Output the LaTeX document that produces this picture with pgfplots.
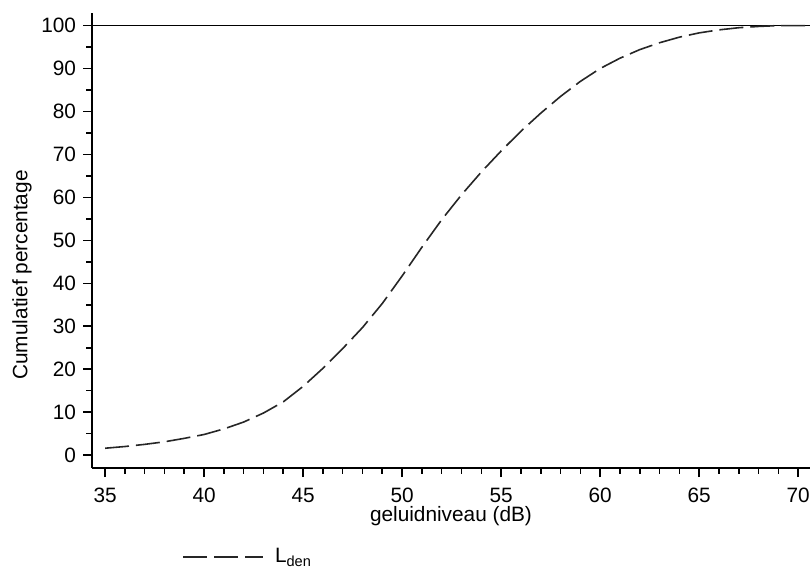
\documentclass[border=0pt]{standalone}
\usepackage{fontspec}
\setmainfont{Liberation Sans}
\usepackage{pgfplots}
\pgfplotsset{compat=1.18}

\newcommand{\chartfont}{\fontsize{10.4bp}{12bp}\selectfont}

\begin{document}
\begin{tikzpicture}
\begin{axis}[
  name=ax,
  scale only axis,
  width=359bp, height=227.65bp,
  xmin=34.34, xmax=70.6,
  ymin=-3, ymax=103,
  axis x line*=bottom, axis y line*=left,
  xtick pos=bottom, ytick pos=left,
  tick align=outside,
  axis line style={line width=0.9bp},
  major tick length=4.5bp, minor tick length=2.8bp,
  every tick/.style={black, line width=0.8bp},
  xtick={35,40,...,70}, ytick={0,10,...,100},
  minor x tick num=4, minor y tick num=1,
  /pgf/number format/assume math mode=true,
  tick label style={font=\chartfont},
  xticklabel style={yshift=-2bp},
  label style={font=\chartfont},
  xlabel={geluidniveau (dB)},
  xlabel style={at={(axis description cs:0.5,0)}, anchor=north, inner sep=0, yshift=-19bp},
  ylabel={Cumulatief percentage},
  ylabel style={at={(axis description cs:-0.0836,0.424)}, anchor=south, inner sep=0},
  legend style={font=\chartfont, draw=none, fill=none, inner sep=0,
    at={(axis description cs:0,0)}, anchor=north west, xshift=45bp, yshift=-40bp,
    nodes={inner sep=0}, column sep=5.5bp},
  legend image code/.code={\draw[#1] (0bp,0bp) -- (40bp,0bp);},
]
\addplot[black, line width=0.9bp, forget plot] coordinates {(34.34,100) (70.6,100)};
\addplot[black!85, line width=0.8bp, dash pattern=on 12bp off 3.5bp] coordinates {
  (35,1.6) (36,2.0) (37,2.5) (38,3.1) (39,3.9) (40,4.8) (41,6.1) (42,7.7)
  (43,9.8) (44,12.4) (45,16.0) (46,20.2) (47,24.8) (48,29.7) (49,35.3)
  (50,41.7) (51,48.4) (52,54.8) (53,60.6) (54,65.9) (55,70.8) (56,75.4)
  (57,79.6) (58,83.5) (59,87.0) (60,90.0) (61,92.4) (62,94.4) (63,96.0)
  (64,97.3) (65,98.3) (66,99.0) (67,99.5) (68,99.8) (69,100) (70,100) (70.6,100)};
\addlegendentry{L\textsubscript{den}}
\end{axis}
\pgfresetboundingbox
\path ([shift={(-46bp,-54.5bp)}]ax.south west) rectangle ([shift={(359bp,234bp)}]ax.south west);
\end{tikzpicture}
\end{document}
